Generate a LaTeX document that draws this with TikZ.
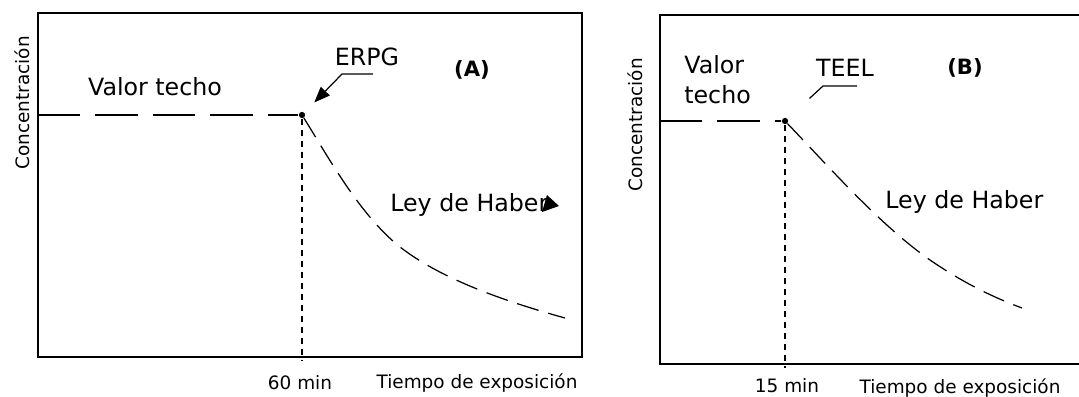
\documentclass[tikz,border=0pt]{standalone}
\usepackage{fontspec}
\setmainfont{DejaVu Sans}
\usetikzlibrary{arrows.meta}
\newcommand\panelbox[4]{%
  \draw[line width=1.1pt] (#1, #2) rectangle (#3, #4)
}
\tikzset{
  longdash/.style={line width=0.8pt, dash pattern=on 0.85cm off 0.3cm},
  curvedash/.style={line width=0.7pt, dash pattern=on 0.45cm off 0.2cm},
  dropline/.style={line width=0.8pt, dash pattern=on 0.12cm off 0.1cm},
  point/.style={circle, fill, inner sep=0pt, minimum size=3.6pt},
  lbl/.style={font=\fontsize{13.5}{17}\selectfont, inner sep=0pt},
  small/.style={font=\fontsize{10.5}{12}\selectfont, inner sep=0pt},
  tag/.style={font=\fontsize{12}{14}\selectfont\bfseries, inner sep=0pt},
  leader/.style={line width=0.7pt}
}

\begin{document}
\begin{tikzpicture}[x=0.02cm, y=-0.02cm]
        \useasboundingbox (0,0) rectangle (1079,396);

        % Panel (A)
        \panelbox{38}{13}{582}{357};
        \node[point] (pA) at (302,115) {};
        \node[small, rotate=90] (concA) at (22,103) {Concentración};
        \node[lbl] (techoA) at (155,87) {Valor techo};
        \node[lbl] (erpg) at (367,57) {ERPG};
        \node[tag] (tagA) at (472,70) {(A)};
        \node[lbl, anchor=west] (haberA) at (390,205) {Ley de Haber};
        \node[small] (minA) at (300,383) {60 min};
        \node[small] (tiempoA) at (477,383) {Tiempo de exposición};
        \coordinate (leadA) at (373,74);
        \coordinate (endA) at (565,318);
        \draw[longdash] (38,115) -- (pA);
        \draw[dropline] (pA) -- (pA |- 0,361);
        \draw[curvedash] (pA) .. controls (330,160) and (360,215) .. (400,247)
                              .. controls (440,278) and (500,300) .. (endA);
        \draw[leader, -{Triangle[length=9pt, width=7pt]}, shorten >=8pt]
             (leadA) -- (342,74) -- (pA);
        \fill (547,195) -- (559,206) -- (542,212) -- cycle;

        % Panel (B)
        \panelbox{660}{15}{1090}{364};
        \node[point] (pB) at (785,121) {};
        \node[small, rotate=90] (concB) at (635,125) {Concentración};
        \node[lbl, anchor=west, align=left] (techoB) at (684,80) {Valor\\techo};
        \node[lbl] (teel) at (845,68) {TEEL};
        \node[tag] (tagB) at (965,68) {(B)};
        \node[lbl, anchor=west] (haberB) at (885,202) {Ley de Haber};
        \node[small] (minB) at (787,386) {15 min};
        \node[small] (tiempoB) at (960,388) {Tiempo de exposición};
        \coordinate (leadB) at (857,86);
        \coordinate (endB) at (1022,308);
        \draw[longdash] (660,121) -- (pB);
        \draw[dropline] (pB) -- (pB |- 0,368);
        \draw[curvedash] (pB) .. controls (830,168) and (880,225) .. (930,260)
                              .. controls (965,284) and (995,298) .. (endB);
        \draw[leader, shorten >=17pt] (leadB) -- (823,86) -- (pB);
    \end{tikzpicture}
\end{document}
